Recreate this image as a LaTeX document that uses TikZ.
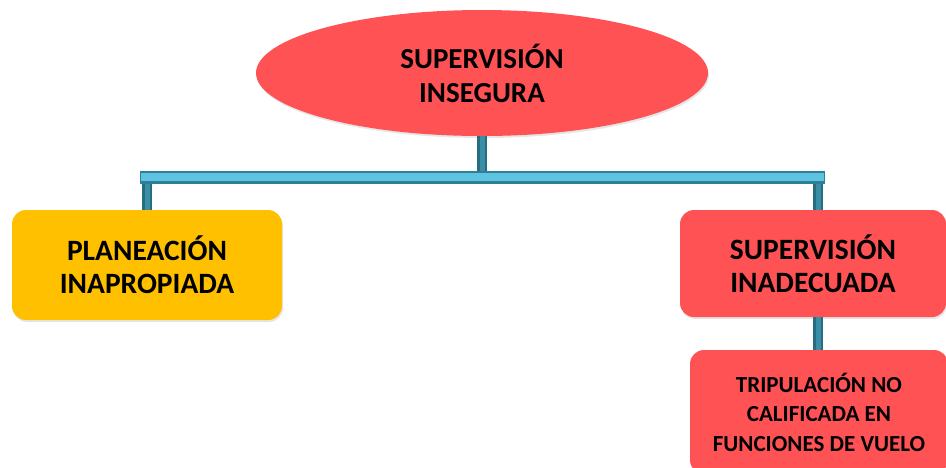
\documentclass[tikz,border=0pt]{standalone}
\usepackage{fontspec}
\setmainfont{Carlito}
\usetikzlibrary{shapes.geometric,shadows}
\definecolor{boxred}{HTML}{FF5254}
\definecolor{boxyellow}{HTML}{FFC000}
\definecolor{barlight}{HTML}{5DC3E0}
\definecolor{bardark}{HTML}{2F7F96}
\definecolor{stubmid}{HTML}{3A8EA6}
\tikzset{
  base/.style={align=center, font=\bfseries, inner sep=2pt,
    drop shadow={opacity=0.2, shadow xshift=1pt, shadow yshift=-2pt}},
  redbox/.style={base, rounded corners=14pt, fill=boxred, draw=none},
  yellowbox/.style={base, rounded corners=14pt, fill=boxyellow, draw=none},
  redoval/.style={base, ellipse, fill=boxred, draw=none},
  barouter/.style={line width=13pt, draw=bardark},
  barinner/.style={line width=8pt, draw=barlight},
  stubouter/.style={line width=10pt, draw=bardark!85!black},
  stubinner/.style={line width=5pt, draw=stubmid},
}
\begin{document}
\begin{tikzpicture}[x=1pt,y=-1pt]
\useasboundingbox (0,0) rectangle (946,467);
% nodes
\node[redoval, minimum width=452pt, minimum height=126pt,
      font=\bfseries\fontsize{29}{34}\selectfont] (top) at (482,73)
      {SUPERVISIÓN\\INSEGURA};
\node[yellowbox, minimum width=270pt, minimum height=110pt,
      font=\bfseries\fontsize{29.5}{33}\selectfont] (plan) at (147,265)
      {PLANEACIÓN\\INAPROPIADA};
\node[redbox, minimum width=266pt, minimum height=107pt,
      font=\bfseries\fontsize{29.5}{33}\selectfont] (sinad) at (813,263.5)
      {SUPERVISIÓN\\INADECUADA};
\node[redbox, minimum width=258pt, minimum height=124pt,
      font=\bfseries\fontsize{23}{29.5}\selectfont] (trip) at (819,412)
      {TRIPULACIÓN NO\\CALIFICADA EN\\FUNCIONES DE VUELO};
% connectors
\coordinate (busL) at (147,177);
\coordinate (busR) at (818,177);
\coordinate (busM) at (482,177);
\draw[stubouter] (top.south) -- (busM);
\draw[stubinner] (top.south) -- (busM);
\draw[stubouter] (busL) -- (busL |- plan.north);
\draw[stubinner] (busL) -- (busL |- plan.north);
\draw[stubouter] (busR) -- (busR |- sinad.north);
\draw[stubinner] (busR) -- (busR |- sinad.north);
\draw[stubouter] (busR |- sinad.south) -- (busR |- trip.north);
\draw[stubinner] (busR |- sinad.south) -- (busR |- trip.north);
\draw[barouter] ([xshift=-7pt]busL) -- ([xshift=7pt]busR);
\draw[barinner] ([xshift=-6pt]busL) -- ([xshift=6pt]busR);
\end{tikzpicture}
\end{document}
